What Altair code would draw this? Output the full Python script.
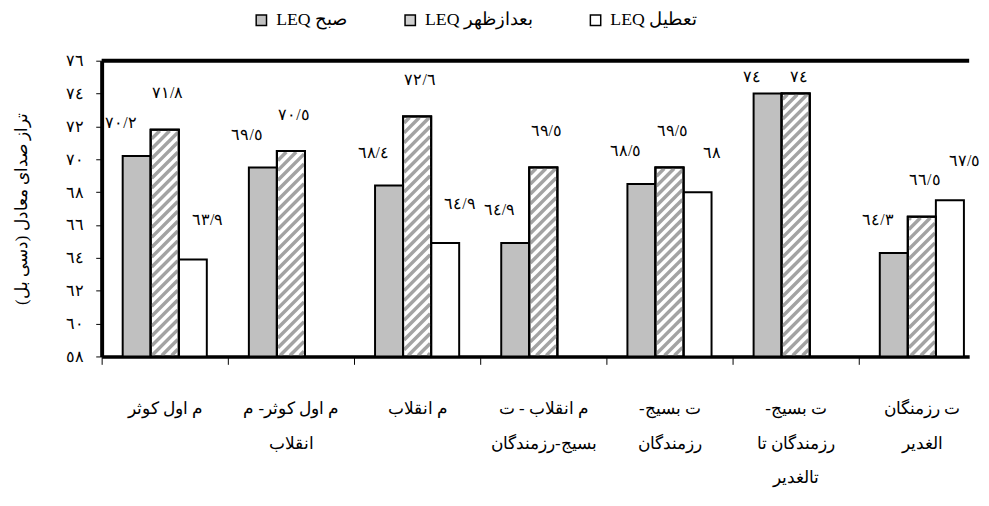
import json
import pandas as pd
import altair as alt

# ---------------- data ----------------
categories = [
    "م اول کوثر",
    "م اول کوثر- م|انقلاب",
    "م انقلاب",
    "م انقلاب - ت|بسیج-رزمندگان",
    "ت بسیج-|رزمندگان",
    "ت بسیج-|رزمندگان تا|تالغدیر",
    "ت رزمنگان|الغدیر",
]
series = ["LEQ صبح", "LEQ بعدازظهر", "LEQ تعطیل"]
morning = [70.2, 69.5, 68.4, 64.9, 68.5, 74.0, 64.3]
afternoon = [71.8, 70.5, 72.6, 69.5, 69.5, 74.0, 66.5]
holiday = [63.9, None, 64.9, None, 68.0, None, 67.5]
y_ticks = [58, 60, 62, 64, 66, 68, 70, 72, 74, 76]
y_title = "تراز صدای معادل (دسی بل)"

# ---------------- helpers ----------------
RLM = "\u200f"
AR = str.maketrans("0123456789.", "٠١٢٣٤٥٦٧٨٩/")


def fmt(v):
    return ("%g" % v).translate(AR)


def rtl(s):
    return RLM + s + RLM


FONT = "Liberation Serif"
W, H = 880, 300
X_MAX = W / 128.0
Y_MIN, Y_MAX = 58, 76
PX = W / X_MAX
PY = H / (Y_MAX - Y_MIN)
BAR_W = 1 / 4.5
BAR_START = 0.75 * BAR_W

# label offsets (pixels) per series: (dx, dy above bar top)
label_offsets = {series[0]: (-16, 33), series[1]: (3, 37), series[2]: (15, 40)}
LABEL_CAP = Y_MAX - 1.0

rows = []
for i, cat in enumerate(categories):
    for j, (s, vals) in enumerate(zip(series, [morning, afternoon, holiday])):
        v = vals[i]
        if v is None:
            continue
        x = i + BAR_START + j * BAR_W
        ly = min(v + label_offsets[s][1] / PY, LABEL_CAP)
        rows.append(dict(cat=cat, series=s, value=v, x=x, x2=x + BAR_W,
                         xc=x + BAR_W / 2, ly=ly, label=fmt(v)))
df = pd.DataFrame(rows)

# hatch segments for afternoon bars (45 degree in pixel space)
hatch = []
PERIOD = 10.0
INSET = 1.0
for r in rows:
    if r["series"] != series[1]:
        continue
    ua, ub = r["x"] * PX + INSET, r["x2"] * PX - INSET
    hh = (r["value"] - Y_MIN) * PY - INSET
    lo_c = int((INSET - ub) // PERIOD) - 1
    hi_c = int((hh - ua) // PERIOD) + 1
    for k in range(lo_c, hi_c + 1):
        c = k * PERIOD
        u_lo = max(ua, INSET - c)
        u_hi = min(ub, hh - c)
        if u_hi - u_lo <= 0.3:
            continue
        hatch.append(dict(hx=u_lo / PX, hy=Y_MIN + (u_lo + c) / PY,
                          hx2=u_hi / PX, hy2=Y_MIN + (u_hi + c) / PY))
hatch_df = pd.DataFrame(hatch)

x_labels = ["|".join(rtl(l) for l in c.split("|")) for c in categories]
x_values = [k / 2 for k in range(0, 14)]
y_labels = [fmt(t) for t in y_ticks]

x_scale = alt.Scale(domain=[0, X_MAX], nice=False, zero=False)
y_scale = alt.Scale(domain=[Y_MIN, Y_MAX], nice=False, zero=False)

x_axis = alt.Axis(
    title=None, values=x_values, tickCount=len(x_values) + 2, grid=False,
    labelExpr="datum.value % 1 == 0 ? '' : split(" + json.dumps(x_labels, ensure_ascii=False)
              + "[floor(datum.value)], '|')",
    tickOpacity={"condition": {"test": "datum.value % 1 != 0", "value": 0}, "value": 1},
    tickSize=8, tickColor="black", tickWidth=1,
    domainColor="black", domainWidth=3.5,
    labelFont=FONT, labelFontSize=17, labelColor="black",
    labelBaseline="top", labelLineHeight=35, labelPadding=37,
    labelOverlap=False, labelFlush=False, labelBound=False,
)
y_axis = alt.Axis(
    title=rtl(y_title), values=y_ticks, tickCount=len(y_ticks) + 2, grid=False,
    labelExpr=json.dumps(y_labels, ensure_ascii=False) + "[(datum.value - 58) / 2]",
    tickSize=6, tickColor="black", tickWidth=1,
    domainColor="black", domainWidth=4,
    labelFont=FONT, labelFontSize=16, labelColor="black", labelPadding=12,
    labelOverlap=False, labelFlush=False,
    titleFont=FONT, titleFontSize=17, titleFontWeight="normal", titleColor="black",
    titlePadding=36,
)

base = alt.Chart(df)

bars = base.mark_rect(stroke="black", strokeWidth=2).encode(
    x=alt.X("x:Q", scale=x_scale, axis=x_axis),
    x2="x2:Q",
    y=alt.Y("value:Q", scale=y_scale, axis=y_axis),
    y2=alt.datum(Y_MIN),
    fill=alt.Fill(
        "series:N",
        scale=alt.Scale(domain=series, range=["#c0c0c0", "#d0d0d0", "#ffffff"]),
        legend=alt.Legend(
            title=None, orient="none", legendX=153, legendY=-50,
            direction="horizontal", symbolType="square", symbolSize=110,
            symbolStrokeColor="black", symbolStrokeWidth=1.5,
            labelFont=FONT, labelFontSize=18, labelColor="black",
            labelOffset=6, columnPadding=55,
        ),
    ),
)

hatched = base.transform_filter(alt.datum.series == series[1])
white_under = hatched.mark_rect(fill="white", stroke="black", strokeWidth=2).encode(
    x="x:Q", x2="x2:Q", y="value:Q", y2=alt.datum(Y_MIN))
stripes = alt.Chart(hatch_df).mark_rule(color="#a3a3a3", strokeWidth=3.5).encode(
    x="hx:Q", y="hy:Q", x2="hx2:Q", y2="hy2:Q")
outline = hatched.mark_rect(fillOpacity=0, stroke="black", strokeWidth=2).encode(
    x="x:Q", x2="x2:Q", y="value:Q", y2=alt.datum(Y_MIN))

texts = []
for s in series:
    dx = label_offsets[s][0]
    texts.append(
        base.transform_filter(alt.datum.series == s)
        .mark_text(dx=dx, font=FONT, fontSize=16, color="black", baseline="middle")
        .encode(x="xc:Q", y="ly:Q", text="label:N")
    )

top_border = alt.Chart(pd.DataFrame({"k": [0]})).mark_rule(color="black", strokeWidth=4).encode(
    x=alt.value(0), x2=alt.value(W), y=alt.value(0))

chart = alt.layer(bars, white_under, stripes, outline, top_border, *texts).properties(
    width=W, height=H, padding={"left": 5, "right": 0, "top": 0, "bottom": 0}
).configure_view(stroke=None)

chart.save("out.html", embed_options={"renderer": "svg", "actions": False})
